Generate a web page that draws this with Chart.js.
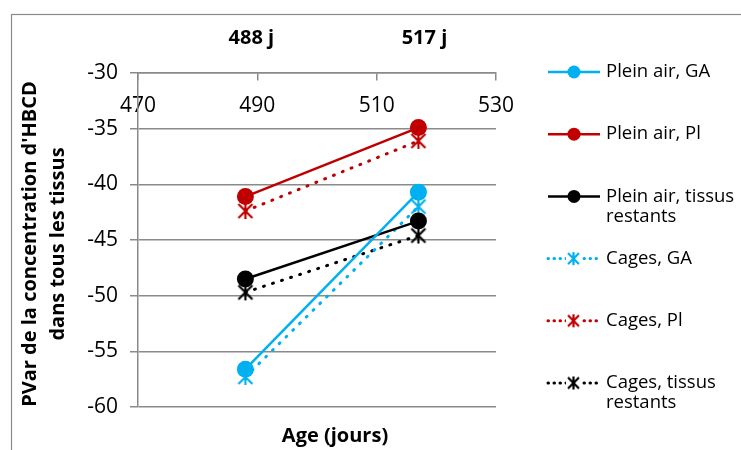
<!DOCTYPE html>
<html>
<head>
<meta charset="utf-8">
<script src="https://cdn.jsdelivr.net/npm/chart.js@4.4.1/dist/chart.umd.min.js"></script>
<style>
  body { margin: 0; background: #fff; }
</style>
</head>
<body>
<canvas id="chart" width="741" height="450"></canvas>
<script>
// Data
const ages = [488, 517];
const ageLabels = ["488 j", "517 j"];
const seriesNames = [
  "Plein air, GA",
  "Plein air, Pl",
  "Plein air, tissus restants",
  "Cages, GA",
  "Cages, Pl",
  "Cages, tissus restants"
];
const pleinAirGA = [-56.6, -40.7];
const pleinAirPl = [-41.1, -34.9];
const pleinAirTissus = [-48.5, -43.3];
const cagesGA = [-57.3, -42.0];
const cagesPl = [-42.4, -36.1];
const cagesTissus = [-49.7, -44.6];
const xTicks = [470, 490, 510, 530];
const yTicks = [-60, -55, -50, -45, -40, -35, -30];

const BLUE = "#00b0f0";
const RED = "#c00000";
const BLACK = "#000000";
const GRID = "#8a8a8a";
const FONT = "'Open Sans', Lato, sans-serif";

// excel-like star marker (X with a vertical bar)
function starMarker(color, size) {
  const c = document.createElement("canvas");
  c.width = size;
  c.height = size;
  const g = c.getContext("2d");
  const m = size / 2;
  g.strokeStyle = color;
  g.lineWidth = 2.2;
  g.beginPath();
  g.moveTo(2, 2); g.lineTo(size - 2, size - 2);
  g.moveTo(size - 2, 2); g.lineTo(2, size - 2);
  g.moveTo(m, 1); g.lineTo(m, size - 1);
  g.stroke();
  return c;
}

function points(vals) {
  return ages.map((a, i) => ({ x: a, y: vals[i] }));
}

function solid(name, vals, color) {
  return {
    label: name,
    data: points(vals),
    borderColor: color,
    backgroundColor: color,
    borderWidth: 2.5,
    pointStyle: "circle",
    pointRadius: 8.5,
    pointHoverRadius: 8.5,
    pointBorderWidth: 0
  };
}

function dotted(name, vals, color) {
  return {
    label: name,
    data: points(vals),
    borderColor: color,
    backgroundColor: color,
    borderWidth: 3,
    borderDash: [1, 8.5],
    borderCapStyle: "round",
    pointStyle: starMarker(color, 18),
    legendMarker: starMarker(color, 15),
    pointRadius: 9
  };
}

const frameAndText = {
  id: "frameAndText",
  beforeDraw(chart) {
    const ctx = chart.ctx;
    ctx.save();
    ctx.strokeStyle = GRID;
    ctx.lineWidth = 1.2;
    ctx.strokeRect(11.5, 14.5, 900, 600);
    ctx.restore();
  },
  afterDraw(chart) {
    const ctx = chart.ctx;
    const xs = chart.scales.x;
    ctx.save();
    ctx.fillStyle = "#000";
    ctx.textAlign = "center";
    ctx.textBaseline = "middle";
    ctx.font = "bold 20px " + FONT;
    ages.forEach((a, i) => {
      ctx.fillText(ageLabels[i], xs.getPixelForValue(a) + 6, 38);
    });
    ctx.fillText("Age (jours)", 335, 436);

    // y axis title, two lines
    ctx.translate(44, 244);
    ctx.rotate(-Math.PI / 2);
    ctx.fillText("PVar de la concentration d'HBCD", 0, -14);
    ctx.fillText("dans tous les tissus", 0, 14);
    ctx.restore();

    // legend
    ctx.save();
    const ds = chart.data.datasets;
    ds.forEach((d, i) => {
      const y = 72 + i * 62.2;
      ctx.strokeStyle = d.borderColor;
      ctx.lineWidth = d.borderWidth;
      ctx.lineCap = d.borderDash ? "round" : "butt";
      ctx.setLineDash(d.borderDash ? [0.5, 5.5] : []);
      ctx.beginPath();
      ctx.moveTo(548, y);
      ctx.lineTo(600, y);
      ctx.stroke();
      ctx.setLineDash([]);
      if (d.pointStyle === "circle") {
        ctx.fillStyle = d.backgroundColor;
        ctx.beginPath();
        ctx.arc(574, y, 6.5, 0, Math.PI * 2);
        ctx.fill();
      } else {
        ctx.fillStyle = "#fff";
        ctx.fillRect(566, y - 7, 15, 14);
        ctx.drawImage(d.legendMarker, 566, y - 7.5);
      }
      ctx.fillStyle = "#000";
      ctx.font = "18.5px " + FONT;
      ctx.textAlign = "left";
      ctx.textBaseline = "middle";
      const words = d.label.split(" ");
      let line = "";
      let ly = y;
      words.forEach(w => {
        const test = line ? line + " " + w : w;
        if (ctx.measureText(test).width > 150 && line) {
          ctx.fillText(line, 606, ly);
          line = w;
          ly += 20;
        } else {
          line = test;
        }
      });
      ctx.fillText(line, 606, ly);
    });
    ctx.restore();
  }
};

new Chart(document.getElementById("chart"), {
  type: "line",
  data: {
    datasets: [
      solid(seriesNames[0], pleinAirGA, BLUE),
      solid(seriesNames[1], pleinAirPl, RED),
      solid(seriesNames[2], pleinAirTissus, BLACK),
      dotted(seriesNames[3], cagesGA, BLUE),
      dotted(seriesNames[4], cagesPl, RED),
      dotted(seriesNames[5], cagesTissus, BLACK)
    ]
  },
  options: {
    responsive: false,
    animation: false,
    devicePixelRatio: 1,
    layout: { padding: { left: 0, top: 73, right: 245, bottom: 43 } },
    plugins: {
      legend: { display: false },
      tooltip: { enabled: false }
    },
    scales: {
      x: {
        type: "linear",
        position: { y: -30 },
        min: 470,
        max: 530,
        afterBuildTicks: s => { s.ticks = xTicks.map(v => ({ value: v })); },
        grid: { drawOnChartArea: false, tickLength: 7, color: GRID, lineWidth: 1.5 },
        border: { color: GRID, width: 1.5 },
        ticks: { color: "#000", font: { family: FONT, size: 21 }, padding: 13 }
      },
      y: {
        min: -60,
        max: -30,
        afterBuildTicks: s => { s.ticks = yTicks.map(v => ({ value: v })); },
        afterFit: s => { s.width = 138; },
        grid: { color: GRID, lineWidth: 1.5, tickLength: 8 },
        border: { color: GRID, width: 1.5 },
        ticks: { color: "#000", font: { family: FONT, size: 21 }, padding: 12 }
      }
    }
  },
  plugins: [frameAndText]
});
</script>
</body>
</html>
